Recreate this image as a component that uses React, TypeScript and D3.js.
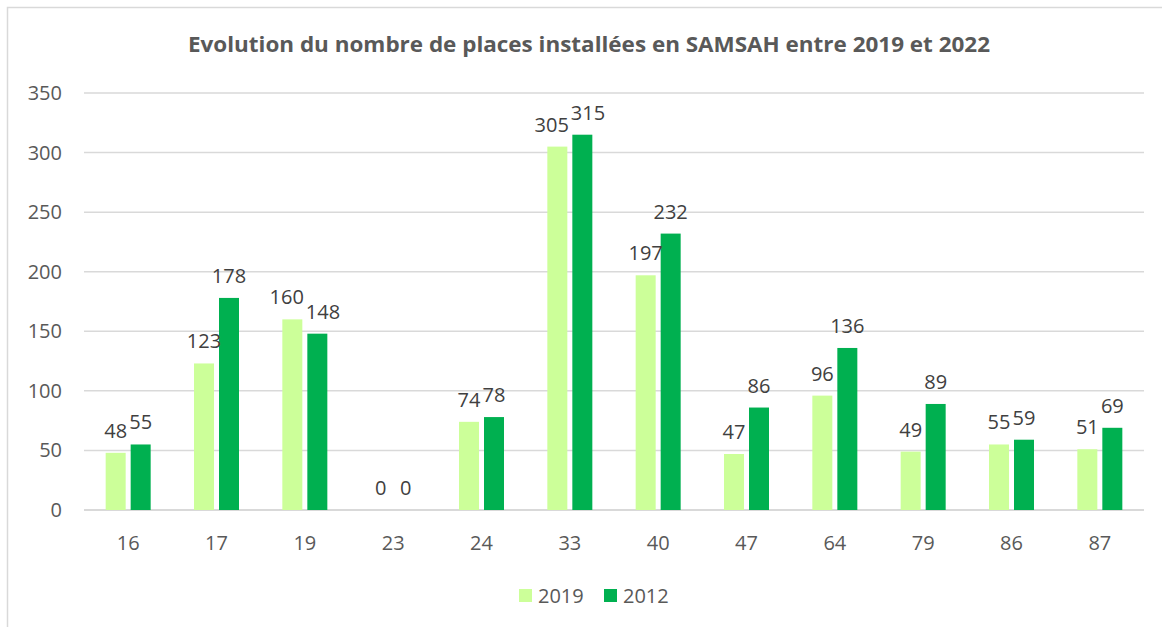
import React from "react";
import * as d3 from "d3";

const categories = ["16", "17", "19", "23", "24", "33", "40", "47", "64", "79", "86", "87"];
const seriesNames = ["2019", "2012"];
const values2019 = [48, 123, 160, 0, 74, 305, 197, 47, 96, 49, 55, 51];
const values2012 = [55, 178, 148, 0, 78, 315, 232, 86, 136, 89, 59, 69];
const yTicks = [0, 50, 100, 150, 200, 250, 300, 350];
const colors = ["#CCFF99", "#00B050"];
const title = "Evolution du nombre de places installées en SAMSAH entre 2019 et 2022";

const W = 1162;
const H = 627;
const font = "'Open Sans', sans-serif";
const FS = 20;
const digitW = FS * 0.572;

export default function App() {
  const left = 84, right = 1144, top = 93, bottom = 510;
  const x = d3.scaleBand<string>().domain(categories).range([left, right]);
  const xs = d3.scaleBand<string>().domain(seriesNames).range([-22.5, 22.5]).paddingInner(0.2);
  const y = d3.scaleLinear().domain([0, 350]).range([bottom, top]);
  const series = [values2019, values2012];
  const bw = xs.bandwidth();

  const labels = categories.map((c, i) => {
    const items = series.map((vals, si) => {
      const v = vals[i];
      const bx = (x(c) ?? 0) + x.bandwidth() / 2 + (xs(seriesNames[si]) ?? 0);
      return { v, cx: bx + bw / 2, y: y(v) - 22, w: String(v).length * digitW };
    });
    const [a, b] = items;
    const vOverlap = Math.abs(a.y - b.y) < FS * 0.8;
    const hOverlap = (a.cx + a.w / 2 + 2) - (b.cx - b.w / 2);
    if (vOverlap && hOverlap > 0) {
      a.cx -= hOverlap / 2;
      b.cx += hOverlap / 2;
    }
    return items;
  });

  return (
    <svg width={W} height={H} style={{ position: "absolute", left: 0, top: 0 }} fontFamily={font}>
      <rect x={0} y={0} width={W} height={H} fill="#fff" />
      <rect x={7.5} y={7.5} width={1170} height={640} fill="none" stroke="#D9D9D9" strokeWidth={1.5} />
      <text x={589} y={52} textAnchor="middle" fontSize={22} fontWeight="bold" fill="#595959"
        textLength={802} lengthAdjust="spacingAndGlyphs">{title}</text>
      {yTicks.map((t) => (
        <g key={t}>
          <line x1={left} x2={right} y1={y(t)} y2={y(t)} stroke="#D9D9D9" strokeWidth={t === 0 ? 2 : 1.5} />
          <text x={62} y={y(t)} dy="0.35em" textAnchor="end" fontSize={FS} fill="#595959">{t}</text>
        </g>
      ))}
      {categories.map((c) => (
        <text key={c} x={(x(c) ?? 0) + x.bandwidth() / 2} y={543} dy="0.35em" textAnchor="middle" fontSize={FS} fill="#595959">{c}</text>
      ))}
      {series.map((vals, si) =>
        vals.map((v, i) => {
          const bx = (x(categories[i]) ?? 0) + x.bandwidth() / 2 + (xs(seriesNames[si]) ?? 0);
          return (
            <rect key={`${si}-${i}`} x={bx} y={y(v)} width={bw} height={bottom - y(v)} fill={colors[si]} />
          );
        })
      )}
      {labels.map((items, i) =>
        items.map((l, si) => (
          <text key={`l-${si}-${i}`} x={l.cx} y={l.y} dy="0.35em" textAnchor="middle" fontSize={FS} fill="#404040">{l.v}</text>
        ))
      )}
      {seriesNames.map((s, i) => (
        <g key={s} transform={`translate(${519 + i * 85},0)`}>
          <rect x={0} y={589} width={13} height={13} fill={colors[i]} />
          <text x={19} y={595.5} dy="0.35em" fontSize={FS} fill="#595959">{s}</text>
        </g>
      ))}
    </svg>
  );
}
